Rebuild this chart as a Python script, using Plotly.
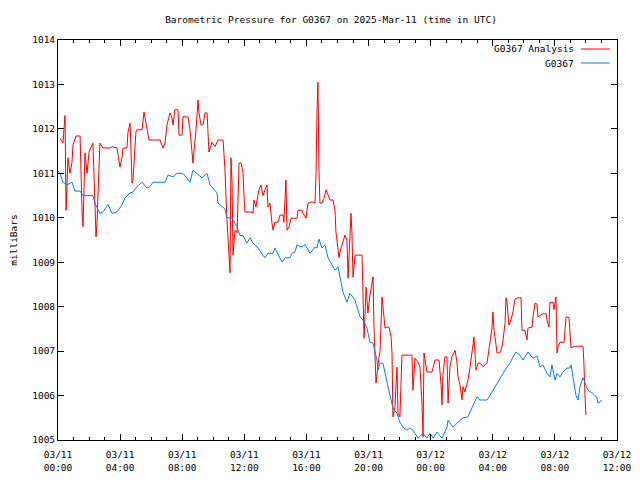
import pandas as pd
import plotly.graph_objects as go

# Hours since 2025-03-11 00:00 UTC and pressures (mb)
obs_hours = [0.00, 0.13, 0.32, 0.58, 0.90, 1.09, 1.42, 1.61, 2.25, 2.38, 2.70, 2.90, 3.22, 3.48, 3.80,
             4.12, 4.31, 4.64, 4.83, 5.09, 5.41, 5.73, 5.92, 6.12, 6.89, 7.08, 7.41, 7.66, 8.05, 8.50,
             8.69, 8.95, 9.27, 9.60, 9.79, 10.24, 10.30, 10.75, 10.88, 11.21, 11.53, 11.72, 11.91, 12.17,
             12.36, 12.56, 12.88, 13.20, 13.33, 13.52, 13.85, 13.97, 14.43, 14.62, 14.94, 15.07, 15.26,
             15.39, 15.71, 15.91, 16.23, 16.55, 16.68, 16.81, 17.00, 17.19, 17.39, 17.65, 17.84, 18.03,
             18.16, 18.35, 18.61, 18.80, 19.13, 19.45, 19.64, 19.90, 20.09, 20.29, 20.54, 20.61, 20.74,
             20.93, 21.19, 21.38, 21.57, 21.83, 22.02, 22.22, 22.48, 22.67, 22.86, 23.18, 23.51, 23.76,
             23.96, 24.15, 24.41, 24.73, 25.05, 25.12, 25.44, 25.76, 26.08, 26.40, 26.66, 26.98, 27.18,
             27.63, 27.82, 28.01, 28.27, 28.46, 28.66, 28.92, 29.11, 29.30, 29.50, 29.75, 29.95, 30.27,
             30.59, 30.85, 31.04, 31.23, 31.49, 31.68, 31.81, 32.01, 32.14, 32.33, 32.52, 32.78, 32.97,
             33.04, 33.17, 33.36, 33.49, 33.62, 33.81, 34.00, 34.13, 34.45, 34.71, 34.78, 35.03]
obs_values = [1011.05, 1011.0, 1010.8, 1010.74, 1010.8, 1010.6, 1010.6, 1010.5, 1010.5, 1010.33, 1010.1,
              1010.13, 1010.3, 1010.1, 1010.13, 1010.29, 1010.44, 1010.56, 1010.58, 1010.7, 1010.8,
              1010.67, 1010.7, 1010.8, 1010.8, 1010.96, 1010.92, 1011.0, 1011.0, 1010.8, 1011.07, 1011.0,
              1010.9, 1011.0, 1010.74, 1010.56, 1010.33, 1010.2, 1010.0, 1009.99, 1009.8, 1009.6, 1009.6,
              1009.43, 1009.55, 1009.43, 1009.32, 1009.16, 1009.1, 1009.2, 1009.2, 1009.32, 1009.0, 1009.1,
              1009.1, 1009.2, 1009.23, 1009.39, 1009.34, 1009.4, 1009.2, 1009.34, 1009.32, 1009.52,
              1009.32, 1009.39, 1009.1, 1008.94, 1008.82, 1008.9, 1008.64, 1008.33, 1008.1, 1008.3,
              1008.15, 1007.77, 1007.7, 1007.52, 1007.2, 1007.18, 1006.8, 1006.57, 1006.73, 1006.73,
              1006.3, 1005.97, 1005.72, 1005.6, 1005.4, 1005.29, 1005.22, 1005.27, 1005.22, 1005.04,
              1005.15, 1005.04, 1005.15, 1005.04, 1005.18, 1005.04, 1005.29, 1005.45, 1005.29, 1005.4,
              1005.5, 1005.52, 1005.74, 1005.97, 1005.9, 1005.9, 1006.0, 1006.12, 1006.28, 1006.4, 1006.5,
              1006.64, 1006.73, 1006.87, 1006.98, 1006.91, 1006.8, 1006.98, 1006.84, 1006.89, 1006.64,
              1006.69, 1006.5, 1006.42, 1006.69, 1006.35, 1006.5, 1006.42, 1006.53, 1006.62, 1006.62,
              1006.69, 1006.4, 1006.0, 1005.9, 1006.2, 1006.4, 1006.24, 1006.12, 1006.05, 1005.95,
              1005.83, 1005.9]

ana_hours = [0.13, 0.32, 0.45, 0.52, 0.64, 0.77, 0.90, 0.97, 1.16, 1.42, 1.55, 1.61, 1.74, 1.87, 2.00,
             2.19, 2.25, 2.45, 2.51, 2.70, 2.90, 3.35, 3.48, 3.80, 3.99, 4.12, 4.19, 4.44, 4.51, 4.64,
             4.77, 4.83, 5.02, 5.09, 5.41, 5.54, 5.73, 5.86, 6.57, 6.76, 6.89, 7.02, 7.21, 7.34, 7.41,
             7.53, 7.73, 7.79, 7.99, 8.05, 8.37, 8.50, 8.63, 8.69, 8.76, 8.89, 9.02, 9.08, 9.21, 9.34,
             9.47, 9.60, 9.72, 9.92, 10.11, 10.30, 10.63, 10.75, 10.88, 11.01, 11.08, 11.14, 11.21,
             11.27, 11.40, 11.53, 11.59, 11.66, 11.79, 11.91, 11.98, 12.04, 12.49, 12.56, 12.62, 12.75,
             12.82, 12.94, 13.07, 13.20, 13.33, 13.46, 13.52, 13.65, 13.78, 13.85, 13.97, 14.17, 14.30,
             14.49, 14.55, 14.62, 14.68, 14.75, 14.88, 15.01, 15.39, 15.46, 15.71, 15.78, 15.97, 16.10,
             16.36, 16.55, 16.62, 16.68, 16.74, 16.81, 16.87, 17.00, 17.13, 17.26, 17.39, 17.52, 17.71,
             17.84, 17.90, 17.97, 18.10, 18.16, 18.35, 18.48, 18.61, 18.68, 18.87, 18.93, 19.00, 19.13,
             19.58, 19.64, 19.71, 19.84, 19.96, 20.09, 20.22, 20.29, 20.35, 20.48, 20.61, 20.74, 20.87,
             20.93, 21.06, 21.19, 21.32, 21.45, 21.51, 21.57, 21.70, 21.83, 21.90, 22.02, 22.15, 22.80,
             22.86, 22.99, 23.18, 23.31, 23.44, 23.51, 23.57, 23.76, 24.09, 24.28, 24.54, 24.67, 24.73,
             24.79, 24.92, 25.05, 25.12, 25.24, 25.37, 25.57, 25.70, 25.76, 25.89, 26.02, 26.08, 26.21,
             26.40, 26.53, 26.66, 26.79, 26.92, 27.05, 27.18, 27.37, 27.63, 27.76, 27.89, 27.95, 28.01,
             28.08, 28.21, 28.27, 28.46, 28.59, 28.66, 28.79, 28.85, 28.92, 29.04, 29.17, 29.30, 29.43,
             29.62, 29.82, 29.88, 30.07, 30.20, 30.27, 30.53, 30.59, 30.72, 30.85, 30.91, 31.23, 31.43,
             31.49, 31.62, 31.68, 31.88, 31.94, 32.07, 32.14, 32.20, 32.33, 32.59, 32.72, 32.91, 33.04,
             33.17, 33.29, 33.81, 33.87, 33.94, 34.00]
ana_values = [1011.79, 1011.68, 1012.3, 1010.17, 1011.35, 1011.0, 1011.25, 1011.64, 1011.84, 1011.84,
              1010.13, 1009.8, 1011.46, 1011.0, 1011.48, 1011.64, 1011.68, 1009.57, 1009.88, 1011.68,
              1011.57, 1011.57, 1011.6, 1011.57, 1011.14, 1011.35, 1011.57, 1011.57, 1011.93, 1012.13,
              1010.78, 1010.85, 1011.93, 1011.98, 1011.98, 1012.38, 1012.02, 1011.75, 1011.75, 1011.57,
              1011.68, 1012.09, 1012.36, 1012.25, 1012.09, 1012.43, 1012.43, 1011.86, 1011.86, 1012.27,
              1012.27, 1011.98, 1011.48, 1011.23, 1011.52, 1011.98, 1012.65, 1012.36, 1012.09, 1012.09,
              1012.36, 1012.36, 1011.48, 1011.7, 1011.6, 1011.75, 1011.75, 1011.12, 1009.95, 1009.16,
              1008.76, 1011.35, 1010.78, 1009.16, 1009.72, 1009.66, 1010.4, 1011.23, 1011.23, 1011.03,
              1010.5, 1010.13, 1010.13, 1010.1, 1010.4, 1010.24, 1010.4, 1010.63, 1010.74, 1010.5,
              1010.63, 1010.74, 1010.24, 1010.33, 1009.88, 1009.72, 1009.9, 1009.9, 1010.06, 1010.06,
              1009.9, 1010.47, 1010.85, 1009.72, 1009.8, 1009.99, 1009.99, 1010.17, 1010.17, 1010.1,
              1009.99, 1010.33, 1010.36, 1010.33, 1011.0, 1012.36, 1013.05, 1011.0, 1010.33, 1010.33,
              1010.44, 1010.63, 1010.5, 1010.4, 1010.4, 1010.17, 1009.68, 1009.43, 1009.1, 1009.23,
              1009.43, 1009.61, 1009.5, 1008.64, 1010.1, 1009.66, 1008.66, 1009.16, 1009.16, 1008.15,
              1007.29, 1008.44, 1007.86, 1008.26, 1008.6, 1008.67, 1007.54, 1006.28, 1006.69, 1007.02,
              1008.22, 1007.93, 1007.52, 1007.54, 1007.54, 1007.32, 1006.96, 1005.52, 1005.74, 1006.64,
              1005.6, 1005.52, 1006.91, 1006.91, 1006.12, 1006.84, 1006.76, 1006.64, 1005.83, 1005.07,
              1006.96, 1006.53, 1006.53, 1006.8, 1006.8, 1006.24, 1005.79, 1006.46, 1006.87, 1006.87,
              1005.83, 1006.64, 1006.87, 1007.02, 1006.73, 1006.42, 1006.24, 1005.9, 1006.2, 1006.08,
              1006.35, 1006.62, 1006.98, 1007.32, 1006.57, 1006.73, 1006.73, 1006.65, 1006.73, 1007.02,
              1007.4, 1007.52, 1007.88, 1007.47, 1007.14, 1006.96, 1006.96, 1007.09, 1007.25, 1007.63,
              1008.2, 1008.08, 1007.59, 1007.7, 1007.88, 1008.17, 1008.2, 1008.2, 1007.47, 1007.47,
              1007.25, 1007.52, 1007.54, 1007.77, 1008.08, 1008.06, 1007.77, 1007.84, 1007.84, 1007.7,
              1007.54, 1008.1, 1008.1, 1007.93, 1008.22, 1006.96, 1007.09, 1007.2, 1007.2, 1007.77,
              1007.75, 1007.07, 1007.09, 1007.11, 1007.11, 1006.73, 1005.97, 1005.56]

series_names = ["G0367 Analysis", "G0367"]
series_colors = ["#ff0000", "#0a7cf5"]
title_text = "Barometric Pressure for G0367 on 2025-Mar-11 (time in UTC)"
y_title = "milliBars"

base = pd.Timestamp("2025-03-11 00:00")
ana_t = base + pd.to_timedelta(ana_hours, unit="h")
obs_t = base + pd.to_timedelta(obs_hours, unit="h")

FONT = "DejaVu Sans Mono"
FS = 9.5

fig = go.Figure()
fig.add_trace(go.Scatter(x=ana_t, y=ana_values, mode="lines", name=series_names[0],
                         line=dict(color=series_colors[0], width=1), showlegend=False))
fig.add_trace(go.Scatter(x=obs_t, y=obs_values, mode="lines", name=series_names[1],
                         line=dict(color=series_colors[1], width=1), showlegend=False))

axis_common = dict(showline=True, linecolor="black", linewidth=1, mirror="ticks",
                   ticks="inside", tickcolor="black", showgrid=False, zeroline=False,
                   tickfont=dict(family=FONT, size=FS, color="black"))

fig.update_xaxes(**axis_common, type="date",
                 range=[base, base + pd.Timedelta(hours=36)],
                 dtick=4 * 3600 * 1000, tick0=base, tickformat="%m/%d<br>%H:%M", ticklen=6,
                 ticklabelstandoff=6,
                 minor=dict(dtick=3600 * 1000, ticks="inside", ticklen=3, tickcolor="black"),
                 automargin=False)
fig.update_yaxes(**axis_common, range=[1005, 1014], dtick=1, ticklen=6, automargin=False,
                 title=dict(text=y_title, font=dict(family=FONT, size=FS, color="black"), standoff=13))

# gnuplot-style key: label on the left, line sample on the right
key_y = [0.9775, 0.9425]
for name, color, ky in zip(series_names, series_colors, key_y):
    fig.add_annotation(x=0.926, y=ky, xref="paper", yref="paper", text=name, showarrow=False,
                       xanchor="right", yanchor="middle",
                       font=dict(family=FONT, size=FS, color="black"))
    fig.add_shape(type="line", xref="paper", yref="paper", x0=0.9356, x1=0.9875, y0=ky, y1=ky,
                  line=dict(color=color, width=1))

fig.update_layout(
    width=640, height=480,
    margin=dict(l=50, r=31, t=32, b=48),
    paper_bgcolor="white", plot_bgcolor="white",
    title=dict(text=title_text, x=323 / 640, xanchor="center", y=1 - 12 / 480,
               yanchor="middle", yref="container", xref="container",
               font=dict(family=FONT, size=FS, color="black")),
    font=dict(family=FONT, size=FS, color="black"),
)

fig.write_html("out.html")
